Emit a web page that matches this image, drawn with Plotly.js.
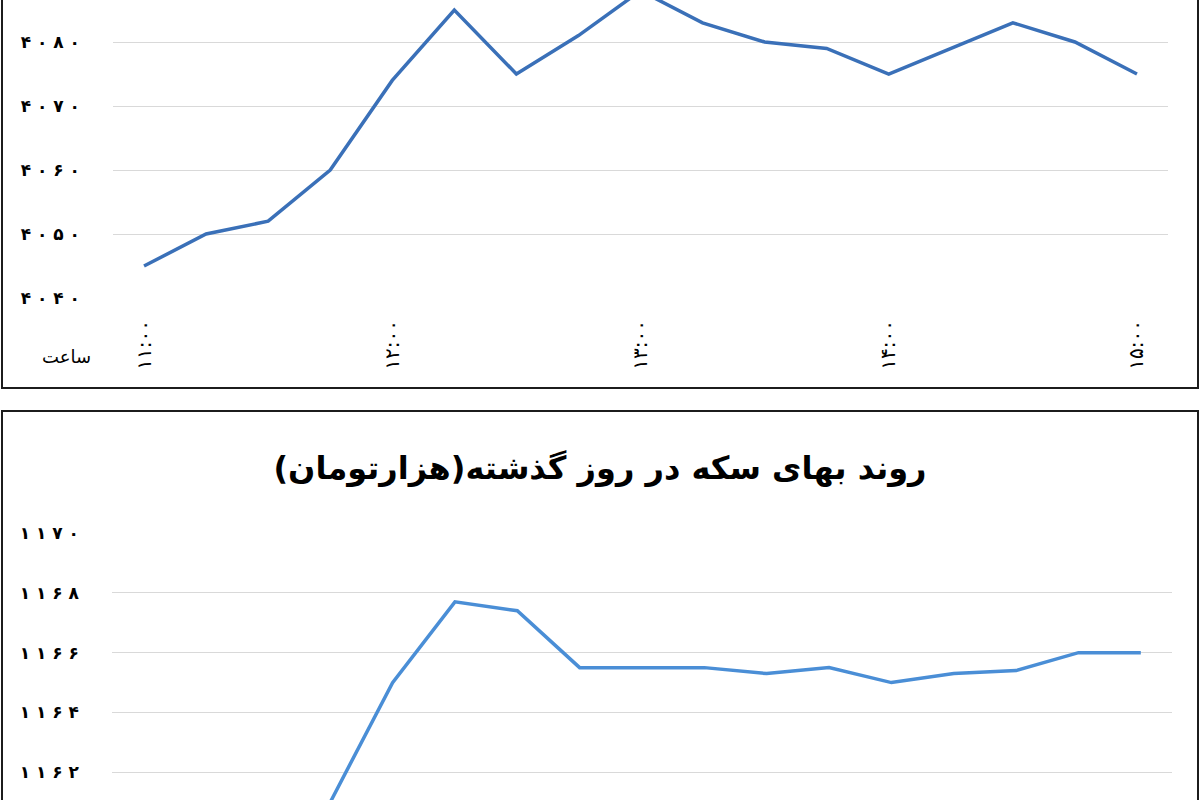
<!DOCTYPE html>
<html>
<head>
<meta charset="utf-8">
<script src="https://cdn.plot.ly/plotly-3.0.1.min.js"></script>
<style>
  html, body { margin:0; padding:0; width:1200px; height:800px; overflow:hidden; background:#fff; }
  .chart { position:absolute; left:0; width:1200px; }
  .frame { position:absolute; box-sizing:border-box; border:2px solid #1c1c1c; pointer-events:none; }
</style>
</head>
<body>
<div id="c1" class="chart" style="top:-100px;height:490px;"></div>
<div id="c2" class="chart" style="top:410px;height:590px;"></div>
<div class="frame" style="left:1px;top:-10px;width:1198px;height:399px;"></div>
<div class="frame" style="left:1px;top:410px;width:1198px;height:500px;"></div>
<script>
// time slots, 11:00 to 15:00 every 15 minutes (17 readings)
const slots = [0,1,2,3,4,5,6,7,8,9,10,11,12,13,14,15,16];
const hourTickPos = [0,4,8,12,16];
const hourTickText = ['۱۱:۰۰','۱۲:۰۰','۱۳:۰۰','۱۴:۰۰','۱۵:۰۰'];

// top chart (dollar, toman)
const topValues = [4045,4050,4052,4060,4074,4085,4075,4081,4088,4083,4080,4079,4075,4079,4083,4080,4075];
const topTickVals = [4040,4050,4060,4070,4080];
const topTickText = ['۴ ۰ ۴ ۰','۴ ۰ ۵ ۰','۴ ۰ ۶ ۰','۴ ۰ ۷ ۰','۴ ۰ ۸ ۰'];

// bottom chart (coin, thousand toman)
const coinTitle = 'روند بهای سکه در روز گذشته(هزارتومان)';
const coinValues = [1159.8,1160.2,1160.4,1161.0,1165.0,1167.7,1167.4,1165.5,1165.5,1165.5,1165.3,1165.5,1165.0,1165.3,1165.4,1166.0,1166.0];
const coinTickVals = [1162,1164,1166,1168,1170];
const coinTickText = ['۱ ۱ ۶ ۲','۱ ۱ ۶ ۴','۱ ۱ ۶ ۶','۱ ۱ ۶ ۸','۱ ۱ ۷ ۰'];

const hourLabel = 'ساعت';

const fontFam = 'DejaVu Sans, sans-serif';

function xaxisCfg(showLabels) {
  return {
    range:[-0.5,16.5], tickvals:hourTickPos, ticktext:hourTickText,
    tickangle:-90, showgrid:false, zeroline:false, showline:false, ticks:'',
    showticklabels:showLabels,
    ticklabelstandoff:17,
    tickfont:{family:fontFam, size:20, color:'#000'}, fixedrange:true
  };
}

function yTickFont() {
  return {family:fontFam, size:17, color:'#000', weight:'bold'};
}

Plotly.newPlot('c1', [{
  x: slots, y: topValues, type:'scatter', mode:'lines',
  line:{color:'#3A70B8', width:3.5}, hoverinfo:'skip'
}], {
  width:1200, height:490,
  margin:{l:113, r:32, t:78, b:92},
  paper_bgcolor:'rgba(0,0,0,0)', plot_bgcolor:'rgba(0,0,0,0)',
  showlegend:false,
  xaxis: xaxisCfg(true),
  yaxis:{range:[4040,4090], tickvals:topTickVals, ticktext:topTickText,
    showgrid:true, gridcolor:'#D9D9D9', gridwidth:1, zeroline:false, showline:false,
    ticks:'', ticklabelstandoff:32, tickfont:yTickFont(), fixedrange:true},
  annotations:[{text:hourLabel, xref:'paper', yref:'paper', x:-0.019, y:-0.145,
    xanchor:'right', yanchor:'top', showarrow:false, font:{family:fontFam, size:18, color:'#000'}}]
}, {staticPlot:true});

Plotly.newPlot('c2', [{
  x: slots, y: coinValues, type:'scatter', mode:'lines',
  line:{color:'#4A8ED6', width:3.5}, hoverinfo:'skip'
}], {
  width:1200, height:590,
  margin:{l:112, r:28, t:123, b:108},
  paper_bgcolor:'rgba(0,0,0,0)', plot_bgcolor:'rgba(0,0,0,0)',
  showlegend:false,
  title:{text:'<b>'+coinTitle+'</b>', x:0.5, xanchor:'center', y:1, yref:'paper', yanchor:'bottom', pad:{b:54},
    font:{family:fontFam, size:32, color:'#000'}},
  xaxis: xaxisCfg(false),
  yaxis:{range:[1158,1170], tickvals:coinTickVals, ticktext:coinTickText,
    showgrid:true, gridcolor:'#D9D9D9', gridwidth:1, zeroline:false, showline:false,
    ticks:'', ticklabelstandoff:32, tickfont:yTickFont(), fixedrange:true}
}, {staticPlot:true});
</script>
</body>
</html>
